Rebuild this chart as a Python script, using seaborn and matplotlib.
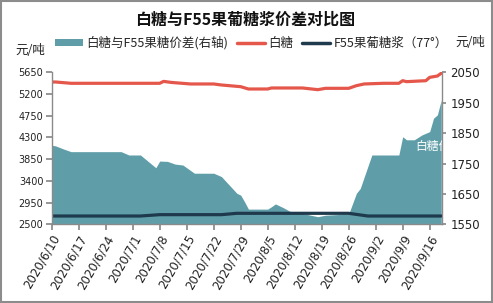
import matplotlib
matplotlib.use('Agg')
import matplotlib.pyplot as plt
import matplotlib.dates as mdates
import seaborn as sns
import pandas as pd
from matplotlib.patches import Rectangle, Patch
from matplotlib.lines import Line2D

sns.set_theme(style='white')
plt.rcParams['font.family'] = ['Noto Sans CJK SC', 'DejaVu Sans']

# ---- data ----
spread_dates = ['2020-06-10', '2020-06-11', '2020-06-13', '2020-06-15', '2020-06-28', '2020-06-30',
                '2020-07-03', '2020-07-07', '2020-07-08', '2020-07-10', '2020-07-12', '2020-07-14',
                '2020-07-17', '2020-07-22', '2020-07-24', '2020-07-28', '2020-07-29', '2020-07-30',
                '2020-07-31', '2020-08-05', '2020-08-06', '2020-08-07', '2020-08-09', '2020-08-11',
                '2020-08-15', '2020-08-18', '2020-08-20', '2020-08-26', '2020-08-28', '2020-08-29',
                '2020-09-01', '2020-09-08', '2020-09-09', '2020-09-10', '2020-09-12', '2020-09-14',
                '2020-09-16', '2020-09-17', '2020-09-18', '2020-09-19']
spread_vals = [1810, 1808, 1798, 1789, 1789, 1778,
               1778, 1736, 1758, 1757, 1748, 1745,
               1718, 1718, 1707, 1652, 1646, 1624,
               1600, 1600, 1608, 1617, 1605, 1591,
               1583, 1575, 1580, 1584, 1652, 1668,
               1778, 1778, 1838, 1828, 1828, 1844,
               1855, 1899, 1910, 1959]

sugar_dates = ['2020-06-10', '2020-06-11', '2020-06-15', '2020-07-08', '2020-07-09', '2020-07-11',
               '2020-07-16', '2020-07-22', '2020-07-24', '2020-07-29', '2020-07-31', '2020-08-05',
               '2020-08-06', '2020-08-14', '2020-08-18', '2020-08-20', '2020-08-26', '2020-08-28',
               '2020-08-30', '2020-09-04', '2020-09-08', '2020-09-09', '2020-09-10', '2020-09-15',
               '2020-09-16', '2020-09-18', '2020-09-19']
sugar_vals = [5449, 5449, 5422, 5422, 5462, 5440,
              5408, 5408, 5387, 5352, 5304, 5304,
              5325, 5325, 5290, 5318, 5318, 5373,
              5408, 5422, 5422, 5476, 5456, 5476,
              5545, 5573, 5630]

f55_dates = ['2020-06-10', '2020-07-03', '2020-07-08', '2020-07-24', '2020-07-28',
             '2020-08-26', '2020-08-31', '2020-09-19']
f55_vals = [2672, 2672, 2700, 2700, 2728, 2728, 2672, 2672]

tick_dates = ['2020-06-10', '2020-06-17', '2020-06-24', '2020-07-01', '2020-07-08', '2020-07-15',
              '2020-07-22', '2020-07-29', '2020-08-05', '2020-08-12', '2020-08-19', '2020-08-26',
              '2020-09-02', '2020-09-09', '2020-09-16']
tick_labels = ['2020/6/10', '2020/6/17', '2020/6/24', '2020/7/1', '2020/7/8', '2020/7/15',
               '2020/7/22', '2020/7/29', '2020/8/5', '2020/8/12', '2020/8/19', '2020/8/26',
               '2020/9/2', '2020/9/9', '2020/9/16']

left_ticks = [2500, 2950, 3400, 3850, 4300, 4750, 5200, 5650]
right_ticks = [1550, 1650, 1750, 1850, 1950, 2050]

teal = '#5F9EA8'
red = '#E5574B'
navy = '#1E3A4C'
gray = '#8A8A8A'

fig = plt.figure(figsize=(4.93, 3.03), dpi=100)
ax = fig.add_axes([0.1049, 0.2597, 0.8966 - 0.1049, 0.7614 - 0.2597])
axr = ax.twinx()
ax.set_zorder(axr.get_zorder() + 1)
ax.patch.set_visible(False)

sd = pd.to_datetime(spread_dates)
axr.fill_between(sd, spread_vals, 1550, color=teal, lw=0)

sns.lineplot(x=pd.to_datetime(sugar_dates), y=sugar_vals, ax=ax, color=red, lw=2.3)
sns.lineplot(x=pd.to_datetime(f55_dates), y=f55_vals, ax=ax, color=navy, lw=2.3)

x0 = pd.Timestamp('2020-06-10')
ax.set_xlim(x0, x0 + pd.Timedelta(days=101.2))
ax.set_ylim(2500, 5650)
axr.set_ylim(1550, 2050)
ax.set_yticks(left_ticks)
axr.set_yticks(right_ticks)
ax.set_xticks(pd.to_datetime(tick_dates))
ax.set_xticklabels(tick_labels, rotation=60, ha='right', rotation_mode='anchor')
ax.set_xlabel('')
ax.set_ylabel('')

for a in (ax, axr):
    for s in a.spines.values():
        s.set_color(gray)
        s.set_linewidth(1.0)
ax.spines['top'].set_visible(False)
ax.spines['right'].set_visible(False)
axr.spines['top'].set_visible(False)
axr.spines['left'].set_visible(False)
axr.spines['bottom'].set_visible(False)

ax.tick_params(axis='x', bottom=True, direction='out', length=4, color=gray, labelsize=8.5, pad=2,
               labelcolor='#222222')
ax.tick_params(axis='y', left=True, direction='out', length=4, color=gray, labelsize=7, pad=2,
               labelcolor='#222222')
axr.tick_params(axis='y', right=True, direction='out', length=3, color=gray, labelsize=8.5, pad=3,
                labelcolor='#222222')
for lab in ax.get_yticklabels() + axr.get_yticklabels() + ax.get_xticklabels():
    lab.set_family(['DejaVu Sans'])

# clipped white label inside the area
axr.text(mdates.date2num(pd.Timestamp('2020-09-12')) + 0.2, 1805, '白糖价差', color='white',
         fontsize=8.5, ha='left', va='center', clip_on=True)

# title, legend, units
fig.text(0.497, 1 - 20 / 303, '白糖与F55果葡糖浆价差对比图', fontsize=11.5, fontweight='bold',
         ha='center', va='center', color='#111111')
handles = [Patch(facecolor=teal, edgecolor='none'),
           Line2D([], [], color=red, lw=2.5),
           Line2D([], [], color=navy, lw=2.5)]
labels = ['白糖与F55果糖价差(右轴)', '白糖', 'F55果葡糖浆（77°）']
fig.legend(handles, labels, loc='center', bbox_to_anchor=(0.51, 1 - 43 / 303), ncol=3,
           frameon=False, fontsize=9, handlelength=2.2, handleheight=0.45, handletextpad=0.3,
           columnspacing=0.7, borderpad=0)
fig.text(30 / 493, 1 - 50 / 303, '元/吨', fontsize=9, ha='center', va='center', color='#222222')
fig.text(470 / 493, 1 - 43 / 303, '元/吨', fontsize=9, ha='center', va='center', color='#222222')

fig.add_artist(Rectangle((0.002, 0.003), 0.996, 0.994, transform=fig.transFigure, fill=False,
                         edgecolor='#8C8C8C', lw=1.5))

fig.savefig('out.png', dpi=100)
